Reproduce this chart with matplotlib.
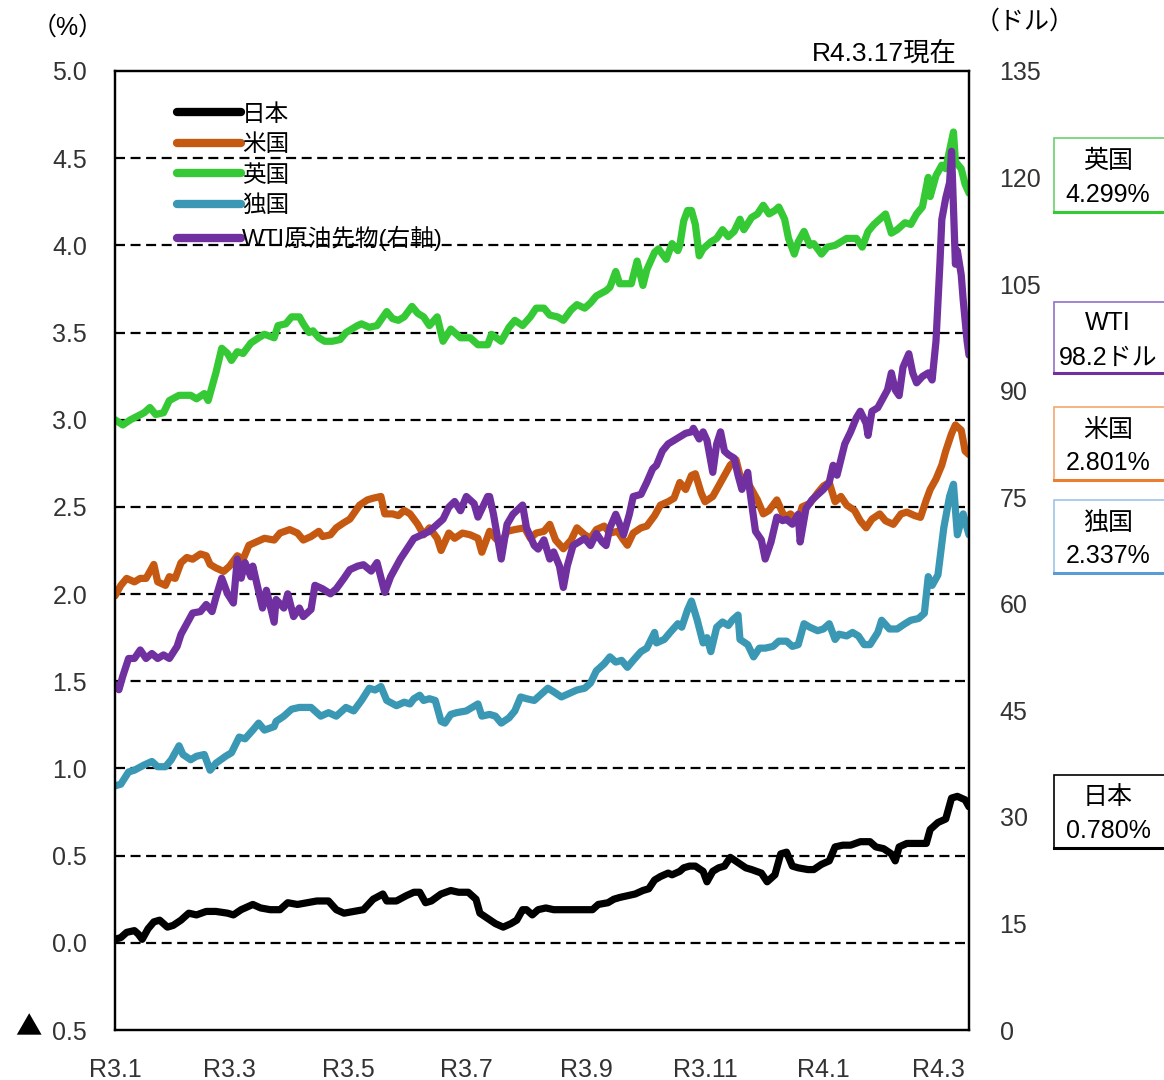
import numpy as np
import matplotlib
matplotlib.use("Agg")
import matplotlib.pyplot as plt
import matplotlib.patches as patches
import pandas as pd


plt.rcParams["font.family"] = ["Liberation Sans", "Noto Sans CJK JP", "DejaVu Sans"]

START = "2021-01-01"
END = "2022-03-17"

# days counted from START
jp_days = [0, 3, 6, 10, 12, 14, 17, 20, 23, 27, 30, 34, 38, 42, 47, 52, 58, 61, 65, 71, 75, 80, 85, 89, 94, 99,
           104, 110, 114, 118, 123, 128, 133, 138, 140, 145, 150, 154, 157, 160, 163, 168, 173, 177, 182, 186,
           188, 192, 196, 200, 204, 207, 210, 212, 215, 218, 222, 226, 231, 236, 242, 246, 249, 254, 257, 260,
           264, 268, 272, 275, 278, 281, 285, 287, 291, 293, 296, 299, 303, 305, 308, 311, 314, 317, 321, 325,
           328, 333, 336, 340, 343, 346, 349, 352, 357, 360, 364, 368, 371, 375, 379, 384, 389, 392, 396, 400,
           402, 404, 408, 414, 418, 420, 424, 428, 431, 434, 438, 440]
jp_vals = [0.02, 0.03, 0.06, 0.07, 0.05, 0.02, 0.08, 0.12, 0.13, 0.09, 0.10, 0.13, 0.17, 0.16, 0.18, 0.18, 0.17,
           0.16, 0.19, 0.22, 0.20, 0.19, 0.19, 0.23, 0.22, 0.23, 0.24, 0.24, 0.19, 0.17, 0.18, 0.19, 0.25, 0.28,
           0.24, 0.24, 0.27, 0.29, 0.29, 0.23, 0.24, 0.28, 0.30, 0.29, 0.29, 0.25, 0.17, 0.14, 0.11, 0.09, 0.11,
           0.13, 0.19, 0.19, 0.16, 0.19, 0.20, 0.19, 0.19, 0.19, 0.19, 0.19, 0.22, 0.23, 0.25, 0.26, 0.27, 0.28,
           0.30, 0.31, 0.36, 0.38, 0.40, 0.39, 0.41, 0.43, 0.44, 0.44, 0.41, 0.35, 0.41, 0.43, 0.44, 0.49, 0.46,
           0.43, 0.42, 0.40, 0.35, 0.39, 0.51, 0.52, 0.44, 0.43, 0.42, 0.42, 0.45, 0.47, 0.55, 0.56, 0.56, 0.58,
           0.58, 0.55, 0.54, 0.51, 0.47, 0.55, 0.57, 0.57, 0.57, 0.65, 0.69, 0.71, 0.83, 0.84, 0.82, 0.78]

us_days = [0, 3, 6, 10, 13, 16, 20, 22, 26, 28, 31, 34, 37, 40, 44, 47, 49, 52, 56, 59, 63, 66, 69, 73, 77, 82,
           85, 90, 94, 97, 101, 105, 107, 111, 114, 118, 121, 126, 130, 133, 137, 139, 143, 146, 149, 152, 156,
           159, 162, 166, 168, 172, 175, 179, 183, 187, 189, 193, 196, 199, 202, 206, 211, 214, 217, 221, 224,
           227, 231, 235, 238, 242, 245, 248, 252, 255, 259, 262, 264, 267, 271, 274, 278, 281, 285, 288, 291,
           294, 297, 299, 302, 304, 308, 310, 314, 317, 320, 322, 326, 328, 331, 334, 337, 341, 345, 348, 352,
           354, 358, 362, 365, 368, 371, 374, 377, 381, 384, 387, 390, 394, 397, 401, 405, 408, 412, 415, 418,
           420, 423, 426, 428, 431, 433, 436, 438, 440]
us_vals = [1.99, 2.05, 2.09, 2.07, 2.09, 2.09, 2.17, 2.07, 2.05, 2.10, 2.09, 2.18, 2.21, 2.20, 2.23, 2.22, 2.17,
           2.15, 2.13, 2.16, 2.22, 2.20, 2.28, 2.30, 2.32, 2.31, 2.35, 2.37, 2.35, 2.31, 2.33, 2.36, 2.33, 2.34,
           2.38, 2.41, 2.43, 2.51, 2.54, 2.55, 2.56, 2.46, 2.46, 2.45, 2.48, 2.46, 2.40, 2.34, 2.38, 2.32, 2.25,
           2.35, 2.32, 2.35, 2.34, 2.32, 2.24, 2.36, 2.32, 2.29, 2.36, 2.37, 2.38, 2.32, 2.35, 2.36, 2.40, 2.31,
           2.26, 2.31, 2.38, 2.34, 2.32, 2.37, 2.39, 2.35, 2.36, 2.31, 2.28, 2.35, 2.38, 2.39, 2.45, 2.51, 2.53,
           2.55, 2.64, 2.60, 2.68, 2.69, 2.58, 2.53, 2.56, 2.60, 2.68, 2.74, 2.77, 2.68, 2.64, 2.60, 2.54, 2.46,
           2.48, 2.54, 2.44, 2.46, 2.42, 2.50, 2.52, 2.58, 2.62, 2.64, 2.53, 2.56, 2.51, 2.48, 2.42, 2.38, 2.43,
           2.46, 2.42, 2.40, 2.46, 2.47, 2.45, 2.44, 2.54, 2.60, 2.66, 2.74, 2.82, 2.92, 2.97, 2.94, 2.82, 2.80]

uk_days = [0, 4, 8, 15, 18, 21, 25, 28, 33, 39, 42, 46, 48, 52, 55, 58, 60, 63, 66, 70, 74, 77, 82, 84, 88, 91,
           95, 97, 100, 102, 105, 108, 112, 116, 119, 125, 127, 131, 135, 140, 143, 146, 149, 153, 156, 159, 162,
           166, 169, 173, 178, 183, 187, 192, 194, 199, 203, 206, 210, 214, 217, 221, 224, 228, 231, 235, 238,
           242, 245, 248, 253, 255, 258, 260, 264, 266, 269, 272, 274, 278, 280, 284, 287, 290, 291, 293, 295,
           297, 299, 301, 303, 307, 310, 313, 316, 319, 322, 324, 328, 331, 334, 337, 340, 342, 345, 347, 350,
           352, 355, 358, 360, 364, 367, 371, 374, 377, 382, 385, 388, 391, 395, 397, 400, 403, 407, 410, 413,
           416, 419, 420, 423, 426, 428, 432, 433, 436, 438, 440]
uk_vals = [3.00, 2.97, 3.00, 3.04, 3.07, 3.03, 3.04, 3.11, 3.14, 3.14, 3.12, 3.15, 3.11, 3.27, 3.41, 3.38, 3.34,
           3.39, 3.38, 3.44, 3.47, 3.49, 3.47, 3.54, 3.55, 3.59, 3.59, 3.55, 3.50, 3.51, 3.47, 3.45, 3.45, 3.46,
           3.50, 3.54, 3.55, 3.53, 3.54, 3.62, 3.58, 3.57, 3.59, 3.65, 3.61, 3.59, 3.54, 3.59, 3.45, 3.52, 3.47,
           3.47, 3.43, 3.43, 3.49, 3.45, 3.53, 3.57, 3.54, 3.59, 3.64, 3.64, 3.60, 3.59, 3.57, 3.63, 3.66, 3.64,
           3.67, 3.71, 3.74, 3.76, 3.85, 3.78, 3.78, 3.78, 3.91, 3.77, 3.86, 3.96, 3.98, 3.92, 4.01, 3.97, 4.00,
           4.14, 4.20, 4.20, 4.12, 3.94, 3.98, 4.02, 4.04, 4.09, 4.05, 4.08, 4.15, 4.09, 4.16, 4.18, 4.23, 4.18,
           4.20, 4.22, 4.15, 4.04, 3.95, 4.02, 4.08, 4.00, 4.01, 3.95, 3.99, 4.00, 4.02, 4.04, 4.04, 3.99, 4.08,
           4.12, 4.16, 4.18, 4.07, 4.09, 4.13, 4.12, 4.18, 4.22, 4.39, 4.28, 4.40, 4.46, 4.44, 4.65, 4.48, 4.44,
           4.35, 4.30]

de_days = [0, 3, 7, 10, 15, 19, 22, 26, 29, 33, 35, 39, 42, 46, 49, 52, 57, 60, 64, 67, 71, 74, 77, 82, 83, 87,
           91, 95, 101, 106, 110, 114, 119, 123, 127, 131, 134, 137, 140, 145, 149, 152, 154, 157, 159, 162, 165,
           168, 170, 173, 176, 181, 184, 187, 189, 193, 196, 199, 203, 206, 209, 212, 216, 219, 223, 226, 230,
           234, 238, 242, 245, 248, 252, 255, 258, 261, 264, 267, 271, 274, 278, 279, 283, 286, 290, 292, 295,
           297, 300, 303, 305, 307, 310, 313, 316, 318, 321, 322, 326, 329, 332, 335, 339, 342, 346, 349, 352,
           355, 358, 362, 365, 368, 371, 373, 377, 380, 383, 386, 389, 393, 395, 399, 403, 407, 410, 414, 417,
           419, 421, 424, 427, 430, 432, 434, 437, 440]
de_vals = [0.90, 0.91, 0.98, 0.99, 1.02, 1.04, 1.01, 1.01, 1.05, 1.13, 1.08, 1.05, 1.07, 1.08, 0.99, 1.03, 1.07,
           1.09, 1.18, 1.17, 1.22, 1.26, 1.22, 1.24, 1.27, 1.30, 1.34, 1.35, 1.35, 1.30, 1.32, 1.30, 1.35, 1.33,
           1.39, 1.46, 1.45, 1.47, 1.39, 1.36, 1.38, 1.37, 1.40, 1.42, 1.39, 1.40, 1.39, 1.27, 1.26, 1.31, 1.32,
           1.33, 1.35, 1.37, 1.30, 1.31, 1.30, 1.26, 1.29, 1.33, 1.41, 1.40, 1.39, 1.42, 1.46, 1.44, 1.41, 1.43,
           1.45, 1.46, 1.49, 1.56, 1.60, 1.64, 1.61, 1.62, 1.58, 1.62, 1.67, 1.69, 1.78, 1.72, 1.74, 1.78, 1.83,
           1.81, 1.91, 1.96, 1.85, 1.72, 1.75, 1.67, 1.81, 1.84, 1.82, 1.85, 1.88, 1.74, 1.71, 1.64, 1.69, 1.69,
           1.70, 1.73, 1.73, 1.70, 1.71, 1.83, 1.81, 1.79, 1.80, 1.83, 1.74, 1.77, 1.76, 1.78, 1.76, 1.71, 1.71,
           1.78, 1.85, 1.80, 1.80, 1.83, 1.85, 1.86, 1.89, 2.10, 2.05, 2.11, 2.38, 2.56, 2.63, 2.34, 2.46, 2.34]

wti_days = [0, 2, 4, 7, 10, 13, 16, 19, 22, 25, 28, 32, 34, 37, 40, 44, 47, 50, 52, 55, 58, 61, 63, 65, 67, 70,
            71, 76, 78, 82, 83, 87, 89, 92, 95, 97, 101, 103, 107, 111, 114, 118, 121, 125, 128, 132, 135, 139,
            142, 147, 154, 162, 169, 172, 175, 178, 181, 185, 187, 192, 193, 195, 199, 202, 205, 210, 212, 216,
            218, 221, 224, 226, 229, 231, 233, 236, 239, 242, 245, 248, 251, 253, 255, 258, 260, 262, 265, 267,
            271, 274, 277, 279, 282, 285, 288, 291, 294, 297, 298, 301, 303, 305, 308, 310, 312, 314, 316, 319,
            321, 323, 326, 327, 330, 333, 335, 338, 341, 344, 346, 349, 352, 353, 356, 359, 363, 365, 368, 370,
            372, 376, 379, 382, 384, 387, 388, 390, 393, 395, 398, 400, 402, 404, 406, 409, 411, 413, 416, 419,
            421, 423, 425, 426, 428, 430, 431, 433, 434, 436, 437, 439, 440]
wti_vals = [48.6, 47.9, 49.8, 52.3, 52.3, 53.5, 52.3, 53.0, 52.3, 52.8, 52.3, 54.0, 55.7, 57.2, 58.7, 58.9, 59.9,
            58.9, 60.9, 63.6, 61.4, 60.1, 66.3, 63.6, 65.8, 63.8, 65.3, 59.4, 61.9, 57.4, 60.6, 59.4, 61.4, 58.2,
            59.4, 58.2, 59.2, 62.6, 62.1, 61.4, 62.1, 63.6, 64.8, 65.3, 65.5, 64.6, 65.8, 61.6, 63.8, 66.3, 69.2,
            70.2, 71.9, 73.6, 74.4, 73.1, 75.1, 74.1, 72.2, 75.1, 75.1, 72.6, 66.3, 71.2, 72.6, 73.9, 70.7, 68.2,
            67.7, 69.0, 66.3, 67.3, 65.3, 62.3, 65.3, 68.2, 68.7, 69.2, 68.2, 69.9, 68.7, 68.2, 70.7, 72.6, 71.2,
            69.7, 72.6, 75.1, 75.4, 77.1, 79.0, 79.5, 81.5, 82.5, 83.0, 83.5, 84.0, 84.2, 84.7, 83.2, 84.2, 83.0,
            78.5, 82.5, 84.2, 81.5, 81.0, 80.5, 78.1, 76.1, 78.5, 76.1, 70.2, 69.0, 66.3, 68.7, 72.2, 71.7, 71.9,
            71.2, 72.6, 68.7, 73.4, 74.6, 75.6, 76.1, 77.1, 79.5, 78.1, 82.5, 84.2, 86.2, 87.1, 85.4, 83.7, 87.1,
            87.6, 88.6, 90.1, 92.5, 90.1, 89.3, 93.3, 95.2, 92.5, 91.1, 92.0, 92.5, 91.5, 97.0, 107.8, 114.1,
            117.1, 119.3, 123.7, 107.8, 109.7, 106.3, 102.8, 97.0, 95.0]

series_names = ["日本", "米国", "英国", "独国", "WTI原油先物(右軸)"]
series_colors = ["#000000", "#C65911", "#36C936", "#3A98B4", "#7030A0"]

left_ticks = np.arange(-0.5, 5.01, 0.5)
left_labels = ["0.5", "0.0", "0.5", "1.0", "1.5", "2.0", "2.5", "3.0", "3.5", "4.0", "4.5", "5.0"]
right_ticks = np.arange(0, 136, 15)
month_ticks = ["2021-01-01", "2021-03-01", "2021-05-01", "2021-07-01", "2021-09-01", "2021-11-01",
               "2022-01-01", "2022-03-01"]
month_labels = ["R3.1", "R3.3", "R3.5", "R3.7", "R3.9", "R3.11", "R4.1", "R4.3"]

box_titles = ["英国", "WTI", "米国", "独国", "日本"]
box_values = ["4.299%", "98.2ドル", "2.801%", "2.337%", "0.780%"]
box_edges = ["#6CCF6C", "#9170C8", "#F4A870", "#9DC3E6", "#000000"]
box_bottoms = ["#36C936", "#7030A0", "#ED7D31", "#5B9BD5", "#000000"]
# pixel tops / bottoms of the boxes on the right
box_px = [(138, 212), (302, 373), (407, 480), (500, 573), (775, 848)]


def to_dates(days):
    return pd.Timestamp(START) + pd.to_timedelta(np.array(days), unit="D")


def main():
    W, H = 1164, 1080
    fig = plt.figure(figsize=(W / 100, H / 100), dpi=100)
    ax = fig.add_axes([115 / W, 1 - 1030 / H, (969 - 115) / W, (1030 - 71) / H])
    ax2 = ax.twinx()

    lw = 5.2
    handles = []
    for days, vals, color in [(jp_days, jp_vals, series_colors[0]),
                              (us_days, us_vals, series_colors[1]),
                              (uk_days, uk_vals, series_colors[2]),
                              (de_days, de_vals, series_colors[3])]:
        h, = ax.plot(to_dates(days), vals, color=color, lw=lw, solid_joinstyle="round", solid_capstyle="round")
        handles.append(h)
    h, = ax2.plot(to_dates(wti_days), wti_vals, color=series_colors[4], lw=lw,
                  solid_joinstyle="round", solid_capstyle="round")
    handles.append(h)

    ax.set_xlim(pd.Timestamp(START), pd.Timestamp(END))
    ax.set_ylim(-0.5, 5.0)
    ax2.set_ylim(0, 135)

    ax.set_yticks(left_ticks)
    ax.set_yticklabels(left_labels)
    ax2.set_yticks(right_ticks)
    ax.set_xticks(pd.to_datetime(month_ticks))
    ax.set_xticklabels(month_labels)

    ax.tick_params(axis="y", length=0, pad=20, labelsize=18, colors="#333333")
    ax2.tick_params(axis="y", length=0, pad=22, labelsize=18, colors="#333333")
    ax.tick_params(axis="x", length=0, pad=20, labelsize=18, colors="#333333")

    # minus sign drawn as a big triangle in front of the lowest tick
    fig.text(28 / W, 1 - 1028 / H, "▲", ha="center", va="center", fontsize=19,
             family=["Noto Sans CJK JP", "DejaVu Sans"])

    for v in left_ticks[1:-1]:
        ax.axhline(v, color="black", lw=1.6, ls=(0, (4.5, 2.5)), zorder=1)

    for a in (ax, ax2):
        for s in a.spines.values():
            s.set_linewidth(1.6)
            s.set_color("black")

    leg = ax2.legend(handles, series_names, loc="upper left", bbox_to_anchor=(0.073, 0.966),
                     frameon=False, fontsize=17, handlelength=2.7, handletextpad=0.05,
                     labelspacing=0.36, borderpad=0, borderaxespad=0)
    for line in leg.get_lines():
        line.set_linewidth(6)
        line.set_solid_capstyle("round")

    fig.text(68 / W, 1 - 28 / H, "（%）", ha="center", va="center", fontsize=18)
    fig.text(1025 / W, 1 - 22 / H, "（ドル）", ha="center", va="center", fontsize=18)
    fig.text(957 / W, 1 - 53 / H, "R4.3.17現在", ha="right", va="center", fontsize=19)

    for i in range(len(box_titles)):
        top, bottom = box_px[i]
        rect = patches.Rectangle((1054 / W, 1 - bottom / H), 120 / W, (bottom - top) / H,
                                 transform=fig.transFigure, fill=False, edgecolor=box_edges[i], lw=1.2,
                                 clip_on=False)
        fig.patches.append(rect)
        fig.add_artist(plt.Line2D([1054 / W, 1.0], [1 - bottom / H, 1 - bottom / H],
                                  transform=fig.transFigure, color=box_bottoms[i], lw=2.2))
        mid = (top + bottom) / 2
        fig.text(1108 / W, 1 - (mid - 14) / H, box_titles[i], ha="center", va="center", fontsize=18)
        fig.text(1108 / W, 1 - (mid + 20) / H, box_values[i], ha="center", va="center", fontsize=18)

    fig.savefig("out.png", dpi=100)


if __name__ == "__main__":
    main()
